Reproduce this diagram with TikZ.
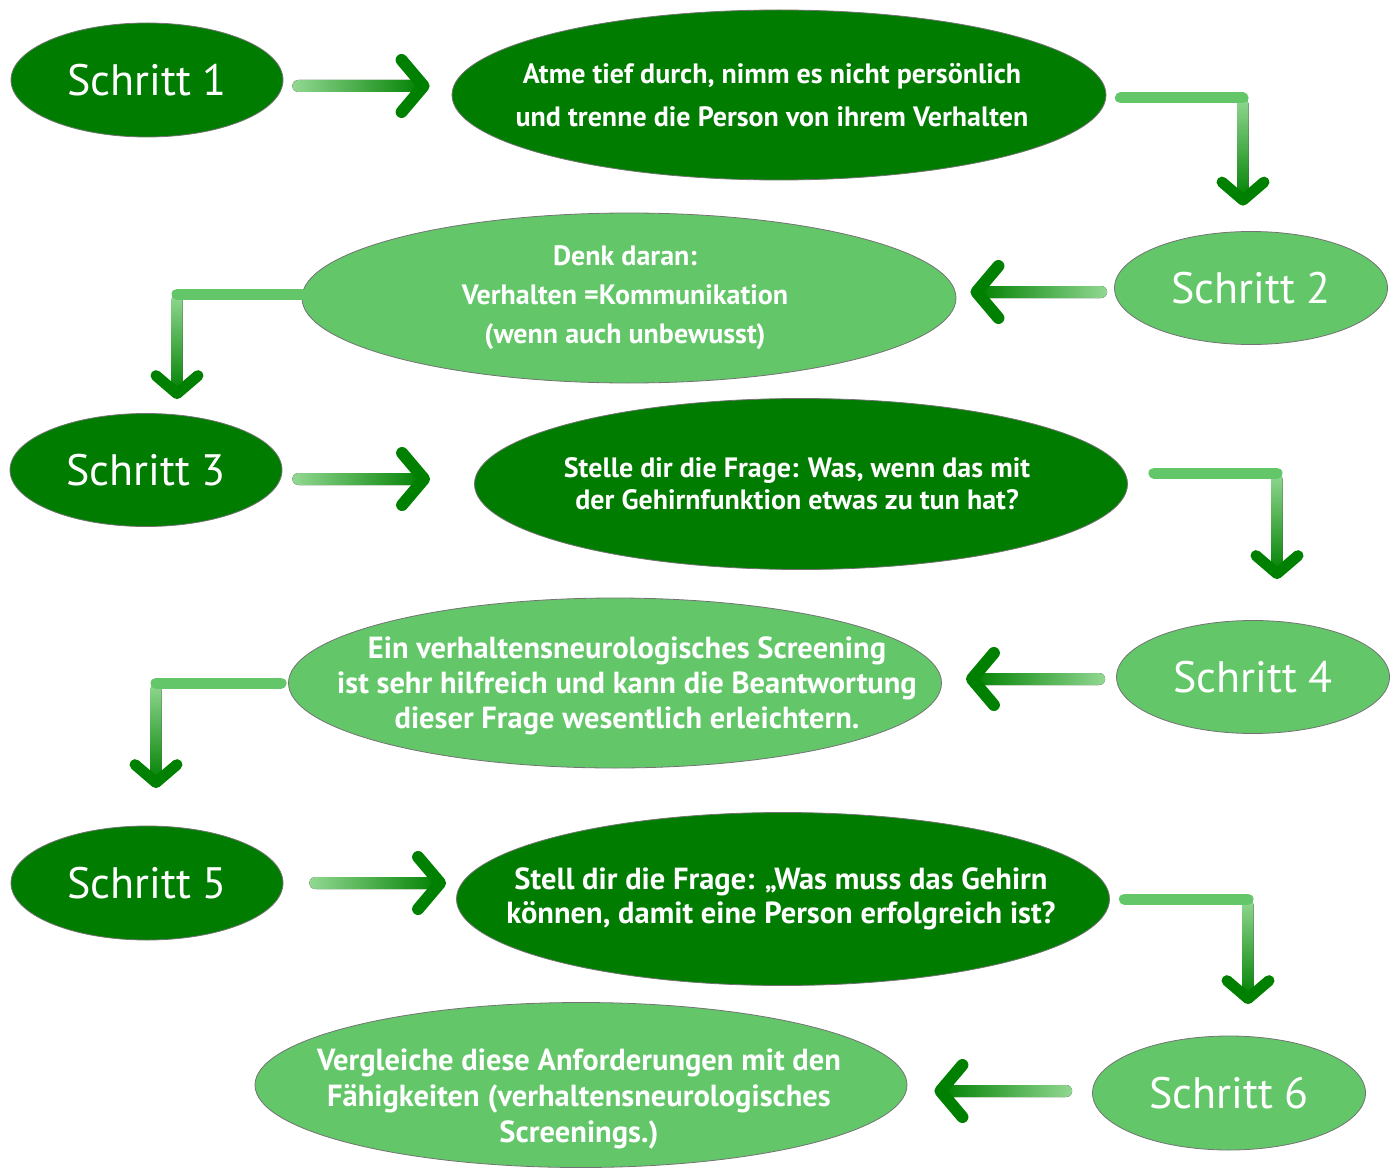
\documentclass[tikz,border=0pt]{standalone}
\usepackage{fontspec}
\setmainfont{PT Sans}
\usetikzlibrary{shapes.geometric,calc}
\definecolor{stepdark}{RGB}{0,124,0}
\definecolor{steplight}{RGB}{99,199,106}
\definecolor{shaftpale}{RGB}{146,216,146}
\definecolor{headgreen}{RGB}{0,128,0}
\tikzset{
    oval/.style={
        ellipse,draw=black!55,line width=0.8pt,fill=#1,
        text=white,inner sep=0pt,font=\fontsize{44}{50}\selectfont
    },
    oval/.default=stepdark,
    info/.style={
        align=center,text=white,font=\bfseries\fontsize{#1}{36}\selectfont
    },
    info/.default=23,
    rshaft/.style={left color=shaftpale,right color=headgreen,rounded corners=6pt},
    lshaft/.style={left color=headgreen,right color=shaftpale,rounded corners=6pt},
    dshaft/.style={top color=shaftpale,bottom color=headgreen,rounded corners=5.5pt},
    chevron/.style={draw=headgreen,line width=12pt,line cap=round,line join=round},
    elbowline/.style={draw=steplight,line width=11pt,line cap=round}
}

\begin{document}
\begin{tikzpicture}[x=1pt,y=-1pt]
\useasboundingbox (0,0) rectangle (1397,1169);

% steps
\node[oval,minimum width=272pt,minimum height=114pt] (s1) at (147,80) {Schritt 1};
\node[oval=steplight,minimum width=273pt,minimum height=113pt] (s2) at (1251,288) {Schritt 2};
\node[oval,minimum width=272pt,minimum height=113pt] (s3) at (146,470) {Schritt 3};
\node[oval=steplight,minimum width=273pt,minimum height=113pt] (s4) at (1253,677) {Schritt 4};
\node[oval,minimum width=272pt,minimum height=114pt] (s5) at (147,883) {Schritt 5};
\node[oval=steplight,minimum width=273pt,minimum height=114pt] (s6) at (1229,1093) {Schritt 6};

% advice ovals
\node[oval,minimum width=654pt,minimum height=170pt] (a) at (779,95) {};
\node[info,font=\bfseries\fontsize{28}{43}\selectfont] (a-txt) at ([xshift=-7pt]a)
{Atme tief durch, nimm es nicht persönlich\\und trenne die Person von ihrem Verhalten};

\node[oval=steplight,minimum width=654pt,minimum height=170pt] (b) at (629,298) {};
\node[info,font=\bfseries\fontsize{28}{39}\selectfont] (b-txt) at ([xshift=-4pt]b)
{Denk daran:\\Verhalten =Kommunikation\\(wenn auch unbewusst)};

\node[oval,minimum width=653pt,minimum height=171pt] (c) at (801,484) {};
\node[info,font=\bfseries\fontsize{28}{32}\selectfont] (c-txt) at ([xshift=-4pt]c)
{Stelle dir die Frage: Was, wenn das mit\\der Gehirnfunktion etwas zu tun hat?};

\node[oval=steplight,minimum width=653pt,minimum height=170pt] (d) at (615,683) {};
\node[info,font=\bfseries\fontsize{30.5}{35}\selectfont] (d-txt) at ([xshift=12pt,yshift=-3pt]d)
{Ein verhaltensneurologisches Screening\\ist sehr hilfreich und kann die Beantwortung\\dieser Frage wesentlich erleichtern.};

\node[oval,minimum width=653pt,minimum height=173pt] (e) at (783,899) {};
\node[info,font=\bfseries\fontsize{30.5}{34}\selectfont] (e-txt) at ([xshift=-2pt]e)
{Stell dir die Frage: „Was muss das Gehirn\\können, damit eine Person erfolgreich ist?};

\node[oval=steplight,minimum width=652pt,minimum height=165pt] (f) at (581,1085) {};
\node[info,font=\bfseries\fontsize{30.5}{36}\selectfont] (f-txt) at ([xshift=-2pt,yshift=-14pt]f)
{Vergleiche diese Anforderungen mit den\\Fähigkeiten (verhaltensneurologisches\\Screenings.)};

% straight arrows
\coordinate (r1) at ([xshift=9pt,yshift=-6pt]s1.east);
\coordinate (r1tip) at ([xshift=-28pt]a.west |- r1);
\fill[rshaft] ([yshift=6pt]r1) rectangle ([yshift=-6pt]r1tip);
\draw[chevron] ([xshift=-22pt,yshift=26pt]r1tip) -- (r1tip) -- ([xshift=-22pt,yshift=-26pt]r1tip);

\coordinate (r2) at ([xshift=-7pt,yshift=-4pt]s2.west);
\coordinate (r2tip) at ([xshift=20pt]b.east |- r2);
\fill[lshaft] ([yshift=6pt]r2tip) rectangle ([yshift=-6pt]r2);
\draw[chevron] ([xshift=22pt,yshift=26pt]r2tip) -- (r2tip) -- ([xshift=22pt,yshift=-26pt]r2tip);

\coordinate (r3) at ([xshift=10pt,yshift=-9pt]s3.east);
\coordinate (r3tip) at ([xshift=-50pt]c.west |- r3);
\fill[rshaft] ([yshift=6pt]r3) rectangle ([yshift=-6pt]r3tip);
\draw[chevron] ([xshift=-22pt,yshift=26pt]r3tip) -- (r3tip) -- ([xshift=-22pt,yshift=-26pt]r3tip);

\coordinate (r4) at ([xshift=-11pt,yshift=-2pt]s4.west);
\coordinate (r4tip) at ([xshift=30pt]d.east |- r4);
\fill[lshaft] ([yshift=6pt]r4tip) rectangle ([yshift=-6pt]r4);
\draw[chevron] ([xshift=22pt,yshift=26pt]r4tip) -- (r4tip) -- ([xshift=22pt,yshift=-26pt]r4tip);

\coordinate (r5) at ([xshift=26pt]s5.east);
\coordinate (r5tip) at ([xshift=-16pt]e.west |- r5);
\fill[rshaft] ([yshift=6pt]r5) rectangle ([yshift=-6pt]r5tip);
\draw[chevron] ([xshift=-22pt,yshift=26pt]r5tip) -- (r5tip) -- ([xshift=-22pt,yshift=-26pt]r5tip);

\coordinate (r6) at ([xshift=-20pt,yshift=2pt]s6.west);
\coordinate (r6tip) at ([xshift=33pt]f.east |- r6);
\fill[lshaft] ([yshift=6pt]r6tip) rectangle ([yshift=-6pt]r6);
\draw[chevron] ([xshift=22pt,yshift=26pt]r6tip) -- (r6tip) -- ([xshift=22pt,yshift=-26pt]r6tip);

% bent arrows
\coordinate (k1s) at ([xshift=14pt,yshift=-3pt]a.east);
\coordinate (k1) at ([xshift=-8pt]s2.north |- k1s);
\coordinate (k1tip) at ([yshift=31pt]s2.north -| k1);
\fill[dshaft] ([xshift=-5.5pt]k1) rectangle ([xshift=5.5pt]k1tip);
\draw[chevron,line width=11pt] ([xshift=-21pt,yshift=18pt]k1tip) -- (k1tip) -- ([xshift=21pt,yshift=18pt]k1tip);
\draw[elbowline] (k1s) -- (k1);

\coordinate (k2s) at ([yshift=4pt]b.west);
\coordinate (k2) at ([xshift=31pt]s3.north |- k2s);
\coordinate (k2tip) at ([yshift=19.5pt]s3.north -| k2);
\fill[dshaft] ([xshift=-5.5pt]k2) rectangle ([xshift=5.5pt]k2tip);
\draw[chevron,line width=11pt] ([xshift=-21pt,yshift=18pt]k2tip) -- (k2tip) -- ([xshift=21pt,yshift=18pt]k2tip);
\draw[elbowline] (k2s) -- (k2);

\coordinate (k3s) at ([xshift=26pt,yshift=11pt]c.east);
\coordinate (k3) at ([xshift=24pt]s4.north |- k3s);
\coordinate (k3tip) at ([yshift=46.5pt]s4.north -| k3);
\fill[dshaft] ([xshift=-5.5pt]k3) rectangle ([xshift=5.5pt]k3tip);
\draw[chevron,line width=11pt] ([xshift=-21pt,yshift=18pt]k3tip) -- (k3tip) -- ([xshift=21pt,yshift=18pt]k3tip);
\draw[elbowline] (k3s) -- (k3);

\coordinate (k4s) at ([xshift=-7pt]d.west);
\coordinate (k4) at ([xshift=9pt]s5.north |- k4s);
\coordinate (k4tip) at ([yshift=43pt]s5.north -| k4);
\fill[dshaft] ([xshift=-5.5pt]k4) rectangle ([xshift=5.5pt]k4tip);
\draw[chevron,line width=11pt] ([xshift=-21pt,yshift=18pt]k4tip) -- (k4tip) -- ([xshift=21pt,yshift=18pt]k4tip);
\draw[elbowline] (k4s) -- (k4);

\coordinate (k5s) at ([xshift=14.5pt]e.east);
\coordinate (k5) at ([xshift=19pt]s6.north |- k5s);
\coordinate (k5tip) at ([yshift=37pt]s6.north -| k5);
\fill[dshaft] ([xshift=-5.5pt]k5) rectangle ([xshift=5.5pt]k5tip);
\draw[chevron,line width=11pt] ([xshift=-21pt,yshift=18pt]k5tip) -- (k5tip) -- ([xshift=21pt,yshift=18pt]k5tip);
\draw[elbowline] (k5s) -- (k5);

\end{tikzpicture}
\end{document}
